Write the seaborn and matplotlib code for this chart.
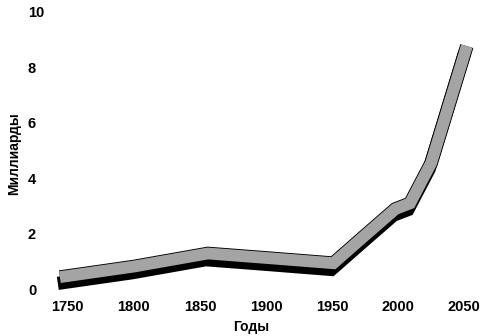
import numpy as np
import pandas as pd
import matplotlib
matplotlib.use('Agg')
import matplotlib.pyplot as plt
import matplotlib.patheffects as pe
import seaborn as sns

# ----------------------- Data ---------------------------------------------
years = [1744, 1800, 1856, 1900, 1951, 1975, 1998, 2009, 2025, 2052]
billions = [0.45, 0.83, 1.3, 1.14, 0.95, 1.95, 2.9, 3.1, 4.55, 8.75]
y_ticks = [0, 2, 4, 6, 8, 10]
x_ticks = [1750, 1800, 1850, 1900, 1950, 2000, 2050]

df = pd.DataFrame({'year': years, 'value': billions})

# ----------------------- Plot ---------------------------------------------
sns.set_theme(style='white')
plt.rcParams['font.family'] = ['Liberation Sans Narrow', 'Liberation Sans', 'DejaVu Sans']

fig = plt.figure(figsize=(4.9, 3.36), dpi=100)
ax = fig.add_axes([48 / 490, 1 - 298 / 336, 436 / 490, 295 / 336])

sns.lineplot(data=df, x='year', y='value', ax=ax, color='#a4a4a4',
             linewidth=8.5, solid_joinstyle='miter', solid_capstyle='butt',
             path_effects=[
                 pe.Stroke(linewidth=9.5, foreground='black', offset=(-1.5, -4.5)),
                 pe.Stroke(linewidth=9.8, foreground='black'),
                 pe.Normal(),
             ])

ax.set_xlim(1735, 2065)
ax.set_ylim(-0.3, 10.3)
ax.set_xticks(x_ticks)
ax.set_yticks(y_ticks)
for s in ax.spines.values():
    s.set_visible(False)
ax.tick_params(axis='both', length=0, labelsize=10.5, labelcolor='black')
ax.tick_params(axis='x', pad=1.5)
ax.tick_params(axis='y', pad=14.4)
for lab in ax.get_yticklabels():
    lab.set_horizontalalignment('left')
for lab in ax.get_xticklabels() + ax.get_yticklabels():
    lab.set_fontweight('bold')

ax.set_xlabel('Годы', fontsize=10, fontweight='bold', color='black')
ax.set_ylabel('Миллиарды', fontsize=10, fontweight='bold', color='black')
ax.xaxis.set_label_coords((251 - 48) / 436, -22 / 295)
ax.yaxis.set_label_coords(-27 / 436, 0.49)

fig.savefig('out.png', dpi=100)
